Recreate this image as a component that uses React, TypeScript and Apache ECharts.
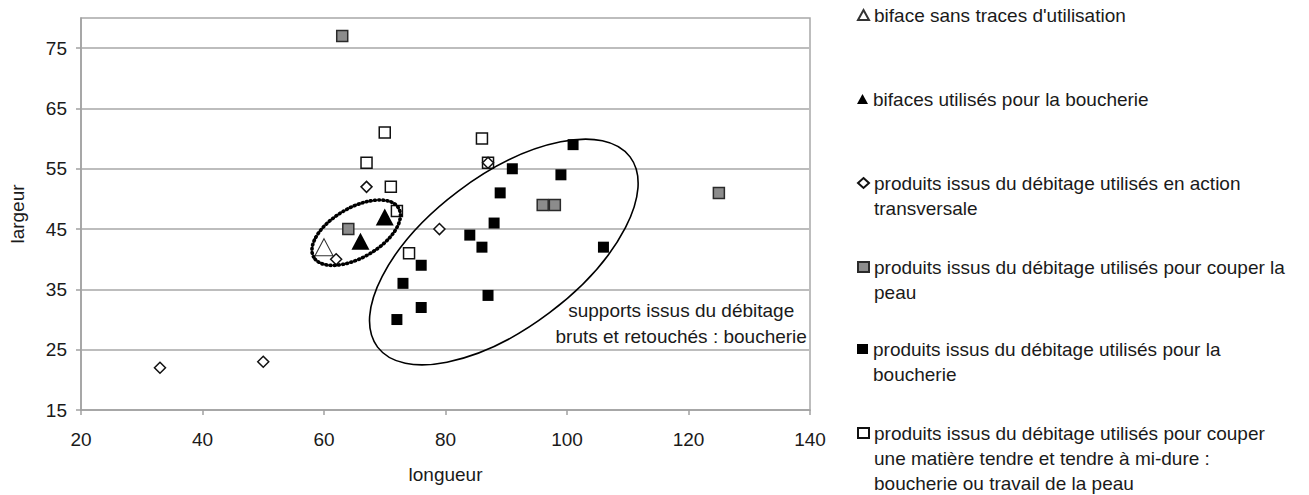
import React, { useEffect, useRef } from "react";
import * as echarts from "echarts";

// ---- data (longueur, largeur) ----
const xTicks = [20, 40, 60, 80, 100, 120, 140];
const yTicks = [15, 25, 35, 45, 55, 65, 75];

const bifaceSansTraces = [[60, 42]];
const bifacesBoucherie = [[66, 43], [70, 47]];
const actionTransversale = [[33, 22], [50, 23], [62, 40], [67, 52], [79, 45], [87, 56]];
const couperPeau = [[63, 77], [64, 45], [96, 49], [98, 49], [125, 51]];
const boucherieProduits = [
  [101, 59], [91, 55], [99, 54], [89, 51], [88, 46], [84, 44], [86, 42],
  [106, 42], [76, 39], [73, 36], [76, 32], [87, 34], [72, 30],
];
const matiereTendre = [[70, 61], [67, 56], [71, 52], [72, 48], [86, 60], [87, 56], [74, 41]];

const legendLines = [
  ["biface sans traces d'utilisation"],
  ["bifaces utilisés pour la boucherie"],
  ["produits issus du débitage utilisés en action", "transversale"],
  ["produits issus du débitage utilisés pour couper la", "peau"],
  ["produits issus du débitage utilisés pour la", "boucherie"],
  [
    "produits issus du débitage utilisés pour couper",
    "une matière tendre et tendre à mi-dure :",
    "boucherie ou travail de la peau",
  ],
];
const seriesNames = legendLines.map((l) => l.join(" "));
const legendFirstLineY = [15, 99, 183, 267, 349, 433];

const annotationLines = ["supports issus du débitage", "bruts et retouchés : boucherie"];

const FONT = "'Liberation Sans', Arial, Helvetica, sans-serif";
const LINE_H = 25;

export default function App() {
  const ref = useRef<HTMLDivElement>(null);

  useEffect(() => {
    document.body.style.margin = "0";
    if (!ref.current) return;
    const chart = echarts.init(ref.current, undefined, { renderer: "svg" });

    const sq = (data: number[][], fill: string, border: string, bw: number, z: number, name: string) => ({
      name,
      type: "scatter",
      data,
      symbol: "rect",
      symbolSize: 11,
      z,
      itemStyle: { color: fill, borderColor: border, borderWidth: bw, opacity: 1 },
    });

    const option: any = {
      animation: false,
      backgroundColor: "#ffffff",
      textStyle: { fontFamily: FONT },
      grid: {
        left: 75,
        top: 18,
        width: 735,
        height: 392,
        show: true,
        borderColor: "#a8a8a8",
        borderWidth: 1.5,
        backgroundColor: "#ffffff",
      },
      xAxis: {
        type: "value",
        min: 20,
        max: 140,
        interval: 20,
        name: "longueur",
        nameLocation: "middle",
        nameGap: 55,
        nameTextStyle: { fontSize: 19, color: "#1a1a1a", fontFamily: FONT },
        axisLine: { show: true, lineStyle: { color: "#a0a0a0", width: 1.5 } },
        axisTick: { show: true, length: 5, lineStyle: { color: "#a0a0a0", width: 1.5 } },
        axisLabel: { fontSize: 19, color: "#1a1a1a", margin: 20, fontFamily: FONT },
        splitLine: { show: false },
      },
      yAxis: {
        type: "value",
        min: 15,
        max: 80,
        interval: 10,
        name: "largeur",
        nameLocation: "middle",
        nameGap: 54,
        nameRotate: 90,
        nameTextStyle: { fontSize: 19, color: "#1a1a1a", fontFamily: FONT },
        axisLine: { show: true, lineStyle: { color: "#a0a0a0", width: 1.5 } },
        axisTick: { show: true, length: 5, customValues: yTicks, lineStyle: { color: "#a0a0a0", width: 1.5 } },
        axisLabel: {
          fontSize: 19,
          color: "#1a1a1a",
          margin: 14,
          fontFamily: FONT,
          customValues: yTicks,
        },
        splitLine: { show: true, lineStyle: { color: "#bdbdbd", width: 2 } },
      },
      legend: legendLines.map((lines, i) => ({
        data: [seriesNames[i]],
        left: 857,
        top: legendFirstLineY[i] - LINE_H / 2 - LINE_H * (lines.length - 1),
        orient: "vertical",
        padding: 0,
        itemWidth: 11,
        itemHeight: 10,
        selectedMode: false,
        // leading blank lines keep the marker level with the first text line
        formatter: () => new Array(lines.length - 1).fill(" ").concat(lines).join("\n"),
        textStyle: {
          fontSize: 19,
          lineHeight: LINE_H,
          color: "#1a1a1a",
          fontFamily: FONT,
        },
      })),
      series: [
        {
          name: seriesNames[0],
          type: "scatter",
          data: bifaceSansTraces,
          symbol: "triangle",
          symbolSize: [18, 17],
          z: 3,
          itemStyle: { color: "#ffffff", borderColor: "#333333", borderWidth: 1, opacity: 1 },
        },
        {
          name: seriesNames[1],
          type: "scatter",
          data: bifacesBoucherie,
          symbol: "triangle",
          symbolSize: [18, 17],
          z: 3,
          itemStyle: { color: "#000000", opacity: 1 },
        },
        {
          name: seriesNames[2],
          type: "scatter",
          data: actionTransversale,
          symbol: "diamond",
          symbolSize: 11,
          z: 4,
          itemStyle: { color: "#ffffff", borderColor: "#111111", borderWidth: 1.5, opacity: 1 },
        },
        sq(couperPeau, "#8c8c8c", "#2a2a2a", 1.5, 2, seriesNames[3]),
        sq(boucherieProduits, "#000000", "#000000", 0, 2, seriesNames[4]),
        sq(matiereTendre, "#ffffff", "#111111", 1.5, 2, seriesNames[5]),
      ],
    };

    chart.setOption(option);

    // annotations anchored on data coordinates
    const bigCenter = chart.convertToPixel({ gridIndex: 0 }, [89.6, 41.2]) as number[];
    const smallCenter = chart.convertToPixel({ gridIndex: 0 }, [65.3, 44.4]) as number[];
    const textAnchor = chart.convertToPixel({ gridIndex: 0 }, [118.8, 29.3]) as number[];

    chart.setOption({
      graphic: [
        {
          type: "ellipse",
          x: bigCenter[0],
          y: bigCenter[1],
          rotation: (37 * Math.PI) / 180,
          shape: { cx: 0, cy: 0, rx: 158, ry: 76 },
          style: { fill: "none", stroke: "#000000", lineWidth: 1.6 },
          z: 10,
          silent: true,
        },
        {
          type: "ellipse",
          x: smallCenter[0],
          y: smallCenter[1],
          rotation: (30 * Math.PI) / 180,
          shape: { cx: 0, cy: 0, rx: 49, ry: 25 },
          style: {
            fill: "none",
            stroke: "#000000",
            lineWidth: 3.6,
            lineDash: [0.8, 3.4],
            lineCap: "round",
          },
          z: 10,
          silent: true,
        },
        {
          type: "text",
          x: textAnchor[0],
          y: textAnchor[1],
          z: 11,
          silent: true,
          style: {
            text: annotationLines.join("\n"),
            fontSize: 19,
            lineHeight: 26,
            fontFamily: FONT,
            fill: "#1a1a1a",
            align: "center",
            verticalAlign: "middle",
          },
        },
      ],
    });

    return () => chart.dispose();
  }, []);

  return <div ref={ref} style={{ width: 1309, height: 495 }} />;
}
